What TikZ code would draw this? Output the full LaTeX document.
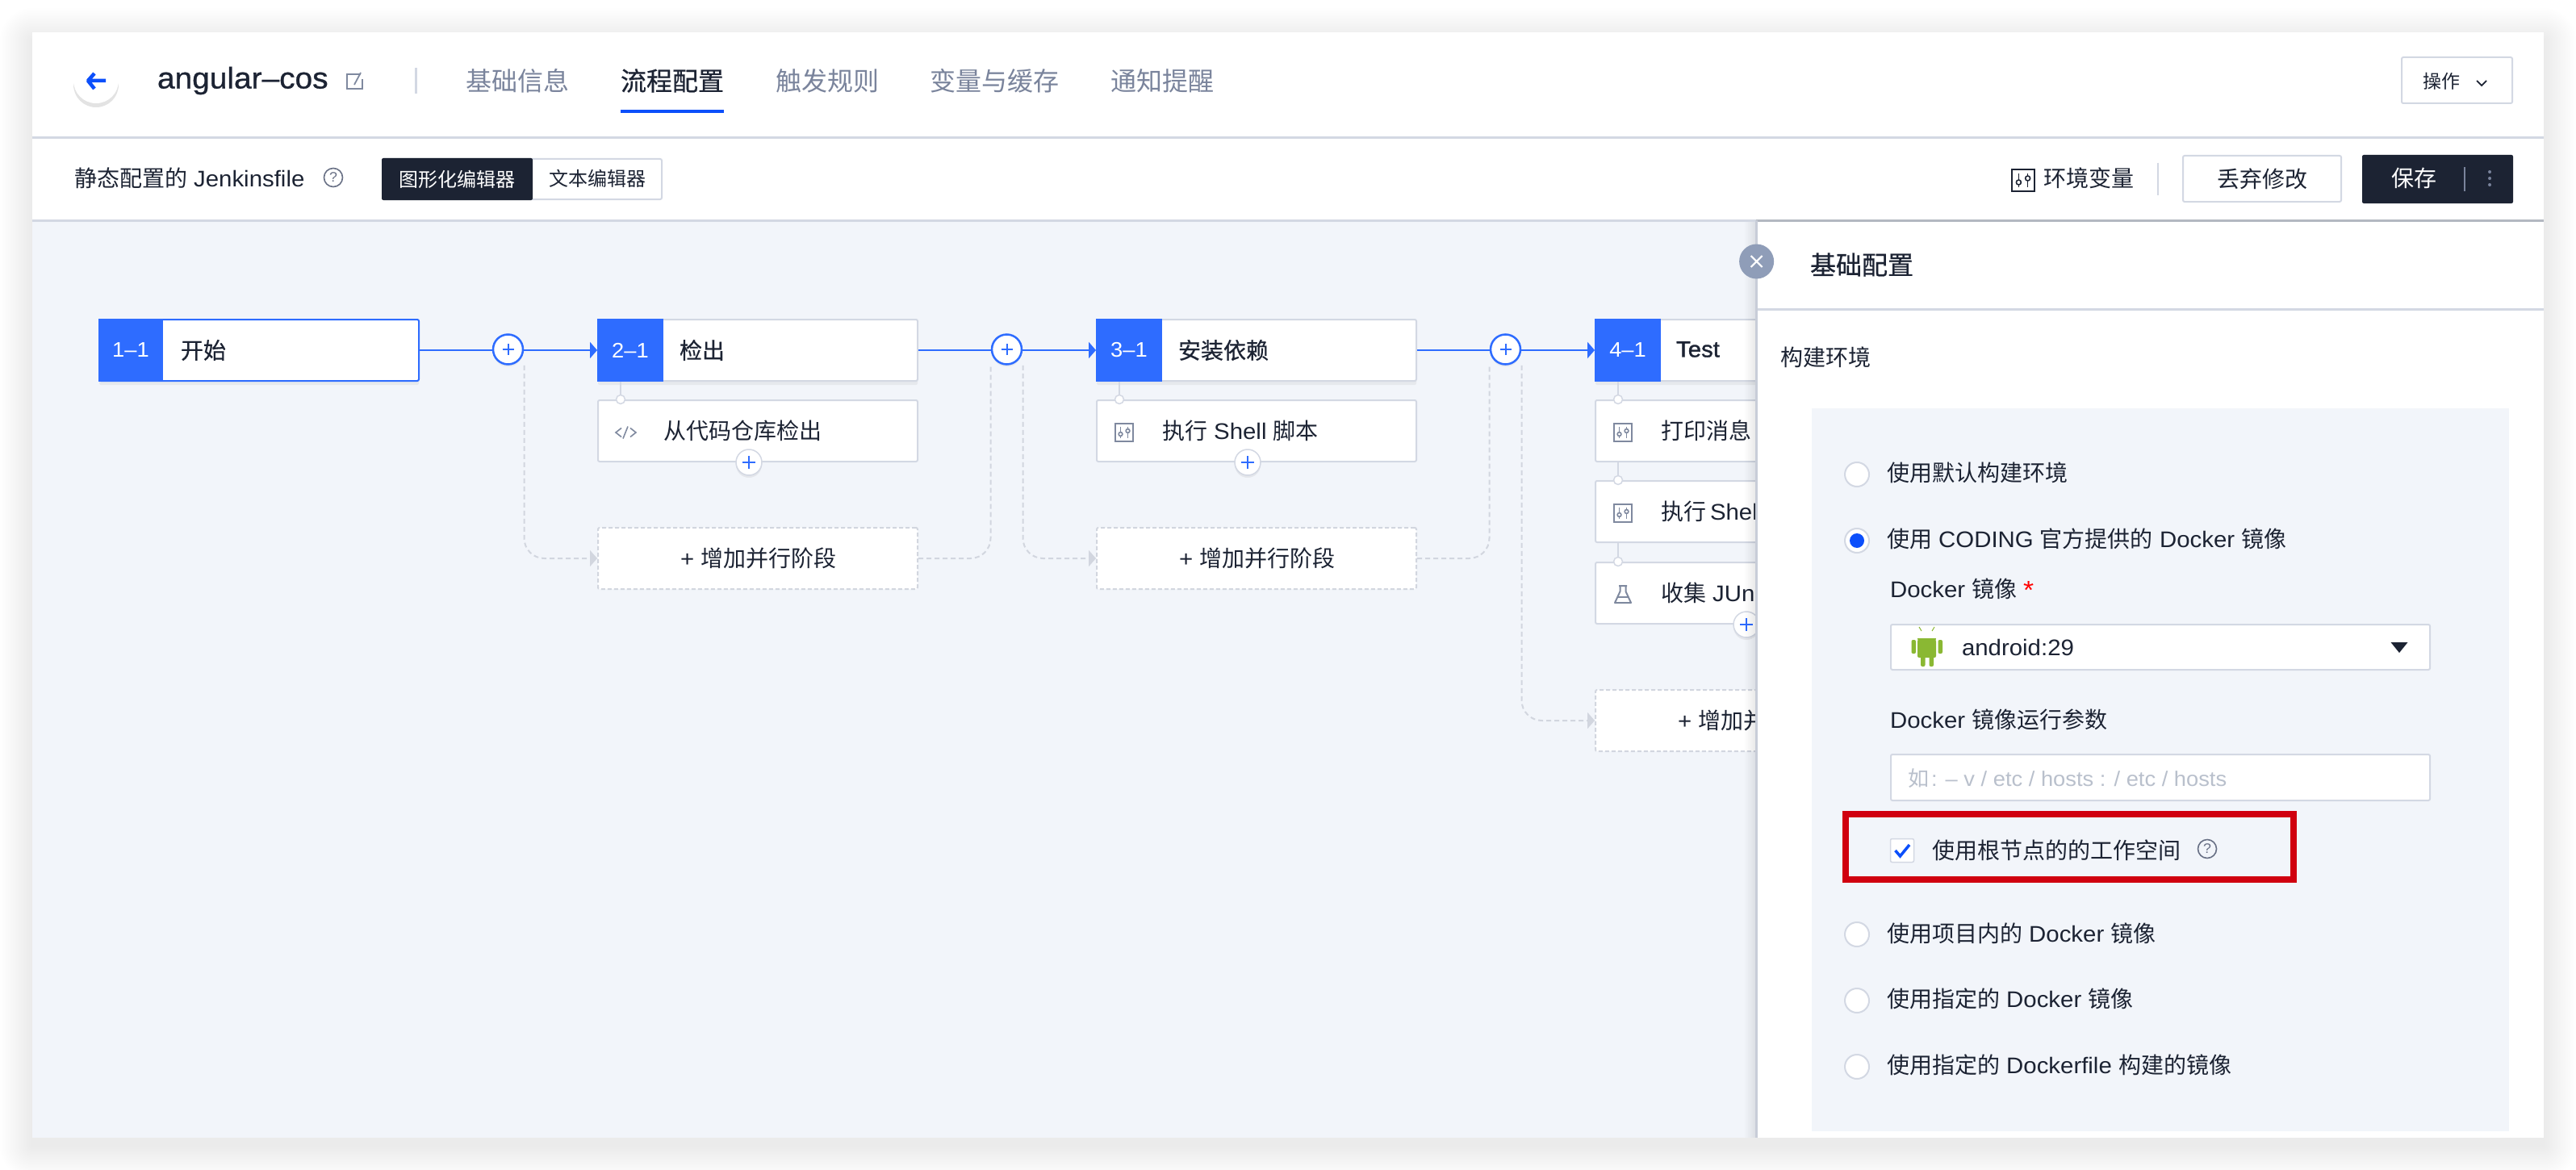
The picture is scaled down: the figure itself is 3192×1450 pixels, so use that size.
\documentclass[tikz,border=0pt]{standalone}
\usepackage{fontspec}
\usetikzlibrary{arrows.meta,shadows,calc}
\setmainfont[WordSpace=1.3]{Noto Sans CJK SC}
\newfontfamily\enf[FakeStretch=1.05]{Liberation Sans}
\newfontfamily\enm[FakeBold=0.8,FakeStretch=1.05]{Liberation Sans}
\newfontfamily\enb[FakeBold=1.2,FakeStretch=1.05]{Liberation Sans}
\newfontfamily\zhm[FakeBold=0.6]{Noto Sans CJK SC}
\newcommand{\szf}[1]{\fontsize{#1}{#1}\selectfont}
\definecolor{ink}{HTML}{1C2333}
\definecolor{tabgrey}{HTML}{7A849C}
\definecolor{canvas}{HTML}{F2F5FA}
\definecolor{rulec}{HTML}{D3D8E3}
\definecolor{brand}{HTML}{2E6CFF}
\definecolor{brandd}{HTML}{0C4FFB}
\definecolor{iconc}{HTML}{7F899F}
\definecolor{dashc}{HTML}{D2D6DF}
\definecolor{closec}{HTML}{8F9DB8}
\definecolor{redc}{HTML}{D0000F}
\definecolor{droid}{HTML}{8AB833}
\definecolor{holder}{HTML}{B9C0CC}
\tikzset{
  lbl/.style={inner sep=0pt,outer sep=0pt,text=ink,anchor=west,font=\szf{28}},
  tab/.style={lbl,text=tabgrey,font=\szf{32}},
  stagebox/.style={anchor=north west,inner sep=0pt,minimum width=396pt,minimum height=76pt,fill=white,draw=rulec,line width=2pt,rounded corners=2pt,
    drop shadow={shadow xshift=0pt,shadow yshift=-5pt,opacity=.10}},
  stagehead/.style={anchor=north west,inner sep=0pt,outer sep=0pt,minimum width=82pt,minimum height=78pt,fill=brand,text=white,font=\szf{26}\enf},
  subbox/.style={anchor=north west,inner sep=0pt,minimum width=396pt,minimum height=76pt,fill=white,draw=rulec,line width=2pt,rounded corners=2pt},
  parbox/.style={subbox,draw=dashc,dashed,dash pattern=on 5pt off 3pt},
  plusbtn/.style={circle,inner sep=0pt,minimum size=37pt,fill=white,draw=brand,line width=2.5pt,
    drop shadow={shadow xshift=0pt,shadow yshift=-3pt,opacity=.10},
    path picture={\draw[brand,line width=2pt] (path picture bounding box.center) ++(-7,0) -- ++(14,0) ++(-7,-7) -- ++(0,14);}},
  plusmini/.style={circle,inner sep=0pt,minimum size=32pt,fill=white,draw=rulec,line width=1.5pt,
    drop shadow={shadow xshift=0pt,shadow yshift=-3pt,opacity=.12},
    path picture={\draw[brand,line width=2pt] (path picture bounding box.center) ++(-8,0) -- ++(16,0) ++(-8,-8) -- ++(0,16);}},
  knob/.style={circle,inner sep=0pt,minimum size=11pt,fill=white,draw=rulec,line width=1.5pt},
  stem/.style={draw=rulec,line width=2pt},
  flow/.style={draw=brand,line width=2.5pt},
  flowtip/.style={flow,-{Triangle[length=9pt,width=20pt]}},
  dashlink/.style={draw=dashc,line width=2pt,dashed,dash pattern=on 6pt off 4pt,rounded corners=25pt},
  dashtip/.style={dashlink,-{Triangle[length=9pt,width=20pt,fill=dashc]}},
  radio/.style={circle,inner sep=0pt,minimum size=30pt,fill=white,draw=rulec,line width=2pt},
  whitebtn/.style={anchor=north west,inner sep=0pt,fill=white,draw=rulec,line width=2pt,rounded corners=2pt,text=ink},
  slidericon/.pic={
    \draw[line width=2pt] (-11,-11) rectangle (11,11);
    \draw[line width=1.6pt] (-4.5,-7) -- (-4.5,7) (4.5,-7) -- (4.5,7);
    \draw[line width=1.6pt,fill=white] (-4.5,2) circle (2.4) (4.5,-2) circle (2.4);
  },
  flaskicon/.pic={
    \draw[line width=2pt,line join=round] (-5,-11) -- (5,-11) (-3.5,-11) -- (-3.5,-4) -- (-10,10) -- (10,10) -- (3.5,-4) -- (3.5,-11);
    \draw[line width=1.6pt] (-6,3) -- (6,3);
  },
  codeicon/.pic={
    \draw[line width=1.6pt] (-5,-5.5) -- (-12,0) -- (-5,5.5) (6,-5.5) -- (13,0) -- (6,5.5) (3,-7.5) -- (-3,7.5);
  },
  helpicon/.pic={
    \draw[line width=1.6pt,color=tabgrey!85!black] (0,0) circle (11.5);
    \node[inner sep=0pt,text=tabgrey!85!black,font=\szf{17}\enf] at (0,0) {?};
  },
}
% #1 id, #2 x, #3 y, #4 pic, #5 text
\newcommand{\stepnode}[5]{%
  \node[subbox] (s#1) at (#2,#3) {};
  \pic[color=iconc] at (#2+35,#3+41) {#4};
  \node[lbl] (st#1) at (#2+82,#3+39) {#5};
}
\begin{document}
\begin{tikzpicture}[x=1pt,y=-1pt]
\useasboundingbox (0,0) rectangle (3192,1450);
\fill[white] (0,0) rectangle (3192,1450);
% window shadow
\foreach \i in {1,...,20}{
  \fill[black,opacity=.0055,rounded corners=\i*2pt] (40-2*\i,50-2*\i) rectangle (3152+2*\i,1420+2*\i);
}
\fill[white] (40,40) rectangle (3152,1410);
\fill[canvas] (40,273) rectangle (2176,1410);
\draw[rulec,line width=3pt] (40,171) -- (3152,171);
\draw[rulec,line width=3pt] (40,273) -- (3152,273);

% header row
\node[circle,inner sep=0pt,minimum size=56pt,fill=white,drop shadow={shadow xshift=0pt,shadow yshift=-5pt,opacity=.22}] (back) at (119,100) {};
\draw[brandd,line width=4.5pt,line join=round] (131,100) -- (109,100) (117,91) -- (109,100) -- (117,110);
\node[lbl,font=\szf{37}\enm] (title) at (195,100) {angular–cos};
\draw[iconc,line width=1.8pt] (447,92) -- (430,92) -- (430,110) -- (449,110) -- (449,98);
\draw[iconc,line width=1.8pt] (439,105) -- (447,90);
\draw[rulec,line width=3pt] (515,84) -- (515,116);
\node[tab] (tab1) at (577,100) {基础信息};
\node[tab,text=ink,font=\szf{32}\zhm] (tab2) at (769,100) {流程配置};
\node[tab] (tab3) at (961,100) {触发规则};
\node[tab] (tab4) at (1152,100) {变量与缓存};
\node[tab] (tab5) at (1376,100) {通知提醒};
\fill[brandd] (769,136) rectangle (897,140);
\node[whitebtn,minimum width=137pt,minimum height=57pt] (ops) at (2975,70) {};
\node[lbl,font=\szf{23}] (opst) at (3002,101) {操作};
\draw[ink,line width=1.8pt] (3069,100) -- (3075,106) -- (3081,100);

% toolbar row
\node[lbl] (static) at (92,221) {静态配置的 {\enf Jenkinsfile}};
\pic at (413,220) {helpicon};
\node[anchor=north west,inner sep=0pt,minimum width=346pt,minimum height=50pt,fill=white,draw=rulec,line width=2pt,rounded corners=2pt] (seg) at (473,196) {};
\node[anchor=north west,inner sep=0pt,outer sep=0pt,minimum width=187pt,minimum height=52pt,fill=ink,rounded corners=2pt,text=white,font=\szf{24}] (seg1) at (473,196) {图形化编辑器};
\node[lbl,font=\szf{24},anchor=center] (seg2) at (740,221) {文本编辑器};
\pic[color=ink,scale=1.25] at (2507,223.5) {slidericon};
\node[lbl] (envt) at (2532,221) {环境变量};
\draw[rulec,line width=2pt] (2674,202) -- (2674,242);
\node[whitebtn,minimum width=196pt,minimum height=57pt,font=\szf{28}] (drop) at (2704,192) {丢弃修改};
\node[anchor=north west,inner sep=0pt,outer sep=0pt,minimum width=187pt,minimum height=60pt,fill=ink,rounded corners=2pt] (save) at (2927,192) {};
\node[lbl,text=white,anchor=center] (savet) at (2991,221) {保存};
\draw[tabgrey,line width=1.5pt] (3054,207) -- (3054,237);
\fill[tabgrey] (3085,213) circle (2) (3085,221) circle (2) (3085,229) circle (2);

% column 1
\node[stagebox,draw=brand] (n11) at (122,395) {};
\node[stagehead,minimum width=80pt] (h11) at (122,395) {1–1};
\node[lbl,font=\szf{28}\zhm] (t11) at (224,434) {开始};
% column 2
\node[stagebox] (n21) at (740,395) {};
\node[stagehead] (h21) at (740,395) {2–1};
\node[lbl,font=\szf{28}\zhm] (t21) at (842,434) {检出};
\stepnode{21}{740}{495}{codeicon}{从代码仓库检出}
\node[parbox] (par2) at (740,653) {};
\node[lbl] (part2) at (843,692) {{\enf +} 增加并行阶段};
% column 3
\node[stagebox] (n31) at (1358,395) {};
\node[stagehead] (h31) at (1358,395) {3–1};
\node[lbl,font=\szf{28}\zhm] (t31) at (1460,434) {安装依赖};
\stepnode{31}{1358}{495}{slidericon}{执行 {\enf Shell} 脚本}
\node[parbox] (par3) at (1358,653) {};
\node[lbl] (part3) at (1461,692) {{\enf +} 增加并行阶段};
% column 4
\node[stagebox] (n41) at (1976,395) {};
\node[stagehead] (h41) at (1976,395) {4–1};
\node[lbl,font=\szf{28}\enb] (t41) at (2077,433) {Test};
\stepnode{41}{1976}{495}{slidericon}{打印消息}
\stepnode{42}{1976}{595}{slidericon}{执行\hspace{5pt}{\enf Shell}}
\stepnode{43}{1976}{696}{flaskicon}{收集 {\enf JUni}}
\node[parbox] (par4) at (1976,854) {};
\node[lbl] (part4) at (2079,893) {{\enf +} 增加并};

% plus buttons
\node[plusbtn] (p1) at (629.5,433) {};
\node[plusbtn] (p2) at (1247.5,433) {};
\node[plusbtn] (p3) at (1865.5,433) {};

% connectors
\draw[flow] (n11.east) -- (n11.east -| p1.west);
\draw[flowtip] (n21.west -| p1.east) -- (n21.west);
\draw[flow] (n21.east) -- (n21.east -| p2.west);
\draw[flowtip] (n31.west -| p2.east) -- (n31.west);
\draw[flow] (n31.east) -- (n31.east -| p3.west);
\draw[flowtip] (n41.west -| p3.east) -- (n41.west);
\draw[dashtip] ([xshift=20pt]p1.south) |- (par2.west);
\draw[dashtip] ([xshift=20pt]p2.south) |- (par3.west);
\draw[dashtip] ([xshift=20pt]p3.south) |- (par4.west);
\draw[dashlink] (par2.east) -| ([xshift=-20pt]p2.south);
\draw[dashlink] (par3.east) -| ([xshift=-20pt]p3.south);
% stems with knobs
\node[knob] (k21) at (769,495) {};
\node[knob] (k31) at (1387,495) {};
\node[knob] (k41) at (2005,495) {};
\node[knob] (k42) at (2005,595) {};
\node[knob] (k43) at (2005,696) {};
\draw[stem] (k21) -- (k21 |- n21.south);
\draw[stem] (k31) -- (k31 |- n31.south);
\draw[stem] (k41) -- (k41 |- n41.south);
\draw[stem] (k42) -- (k42 |- s41.south);
\draw[stem] (k43) -- (k43 |- s42.south);
\node[plusmini] (m21) at (928,573) {};
\node[plusmini] (m31) at (1546,573) {};
\node[plusmini] (m43) at (2164,774) {};

% side panel
\foreach \i in {1,...,7}{
  \fill[black,opacity=.012] (2176-2*\i,275) rectangle (2176,1410);
}
\fill[white] (2176,275) rectangle (3152,1410);
\draw[rulec!85!black,line width=3pt] (2176,273) -- (3152,273);
\draw[rulec!95!black,line width=3pt] (2176.5,273) -- (2176.5,1410);
\draw[rulec,line width=3pt] (2178,383) -- (3152,383);
\node[circle,inner sep=0pt,minimum size=43pt,fill=closec] (close) at (2176.6,324) {};
\draw[white,line width=2pt] ($(close)+(-7,-7)$) -- ($(close)+(7,7)$) ($(close)+(7,-7)$) -- ($(close)+(-7,7)$);
\node[lbl,font=\szf{32}\zhm] (ptitle) at (2243,328) {基础配置};
\node[lbl] (envlabel) at (2206,443) {构建环境};
\fill[canvas] (2245,506) rectangle (3109,1402);

\node[radio] (r1) at (2301,588) {};
\node[lbl] (rt1) at (2338,586) {使用默认构建环境};
\node[radio] (r2) at (2301,670) {};
\fill[brandd] (r2.center) circle (9);
\node[lbl] (rt2) at (2338,668) {使用 {\enf CODING} 官方提供的 {\enf Docker} 镜像};
\node[lbl] (imgl) at (2342,730) {{\enf Docker} 镜像};
\node[lbl,text=red,font=\szf{32}\enf] (star) at (2507,731) {*};
\node[whitebtn,minimum width=668pt,minimum height=56pt] (sel) at (2342,773) {};
% android robot
\begin{scope}
  \fill[droid] (2376,791) arc[start angle=180,end angle=0,radius=11.5] -- cycle;
  \fill[droid,rounded corners=2pt] (2376,793) rectangle (2399,815);
  \fill[droid,rounded corners=2pt] (2368.5,793) rectangle (2374,810) (2401.5,793) rectangle (2407,810);
  \fill[droid,rounded corners=2pt] (2380,810) rectangle (2385.5,826) (2390.5,810) rectangle (2396,826);
  \draw[droid,line width=1pt] (2381,782) -- (2378,777) (2394,782) -- (2397,777);
  \fill[white] (2382.5,786) circle (1.2) (2392.5,786) circle (1.2);
\end{scope}
\node[lbl,font=\szf{28}\enf] (selt) at (2431,802) {android:29};
\fill[ink] (2962.5,796) -- (2983.5,796) -- (2973,809) -- cycle;
\node[lbl] (argl) at (2342,892) {{\enf Docker} 镜像运行参数};
\node[whitebtn,minimum width=668pt,minimum height=57pt] (arg) at (2342,934) {};
\node[lbl,text=holder,font=\szf{26}] (argt) at (2364,965) {如\hspace{3pt}{\enf : – v / etc / hosts : / etc / hosts}};
\draw[redc,line width=8pt] (2287,1009) rectangle (2842,1090);
\node[anchor=center,inner sep=0pt,minimum size=29pt,fill=white,draw=rulec,line width=1.5pt,rounded corners=2pt] (chk) at (2357,1054) {};
\draw[brandd,line width=3.5pt] (2348.5,1054) -- (2354.5,1061) -- (2366,1047);
\node[lbl] (chkt) at (2394,1054) {使用根节点的的工作空间};
\pic at (2735,1052) {helpicon};
\node[radio] (r3) at (2301,1158) {};
\node[lbl] (rt3) at (2338,1157) {使用项目内的 {\enf Docker} 镜像};
\node[radio] (r4) at (2301,1240) {};
\node[lbl] (rt4) at (2338,1238) {使用指定的 {\enf Docker} 镜像};
\node[radio] (r5) at (2301,1322) {};
\node[lbl] (rt5) at (2338,1320) {使用指定的 {\enf Dockerfile} 构建的镜像};
\end{tikzpicture}
\end{document}
